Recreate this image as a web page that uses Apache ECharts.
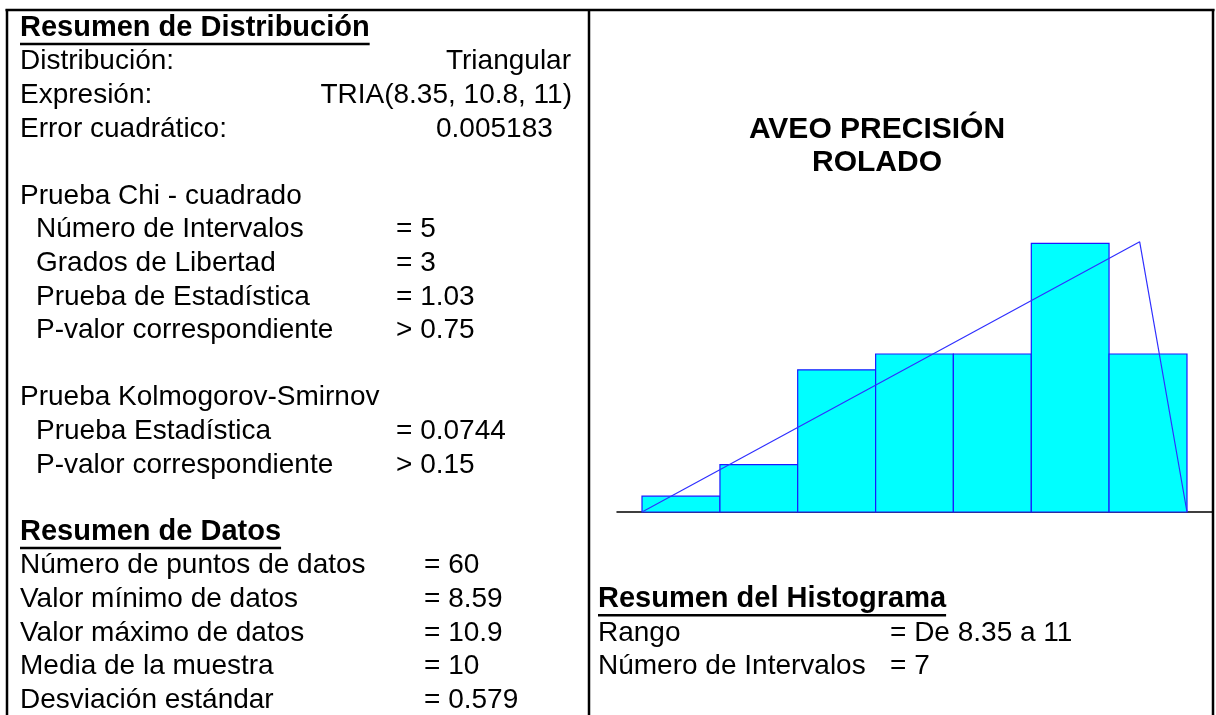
<!DOCTYPE html>
<html>
<head>
<meta charset="utf-8">
<title>AVEO PRECISIÓN ROLADO</title>
<script src="https://cdn.jsdelivr.net/npm/echarts@6/dist/echarts.min.js"></script>
<style>
  html, body { margin: 0; padding: 0; background: #fff; }
  #chart { width: 1216px; height: 715px; }
</style>
</head>
<body>
<div id="chart"></div>
<script>
// histogram data
const binEdges = [8.35, 8.729, 9.107, 9.486, 9.864, 10.243, 10.621, 11.0];
const binCounts = [1, 3, 9, 10, 10, 17, 10];
// fitted triangular curve, in counts per interval
const fitX = [8.35, 10.77, 11.0];
const fitY = [0, 17.1, 0];

const chartTitle = ["AVEO PRECISIÓN", "ROLADO"];

// left panel texts
const distHeading = "Resumen de Distribución";
const distRows = [
  ["Distribución:", "Triangular"],
  ["Expresión:", "TRIA(8.35, 10.8, 11)"],
  ["Error cuadrático:", "0.005183"],
];
const chiHeading = "Prueba Chi - cuadrado";
const chiRows = [
  ["Número de Intervalos", "= 5"],
  ["Grados de Libertad", "= 3"],
  ["Prueba de Estadística", "= 1.03"],
  ["P-valor correspondiente", "> 0.75"],
];
const ksHeading = "Prueba Kolmogorov-Smirnov";
const ksRows = [
  ["Prueba Estadística", "= 0.0744"],
  ["P-valor correspondiente", "> 0.15"],
];
const dataHeading = "Resumen de Datos";
const dataRows = [
  ["Número de puntos de datos", "= 60"],
  ["Valor mínimo de datos", "= 8.59"],
  ["Valor máximo de datos", "= 10.9"],
  ["Media de la muestra", "= 10"],
  ["Desviación estándar", "= 0.579"],
];
const histHeading = "Resumen del Histograma";
const histRows = [
  ["Rango", "= De 8.35 a 11"],
  ["Número de Intervalos", "= 7"],
];

const FONT = '"Liberation Sans", Arial, Helvetica, sans-serif';
const FS = 28;      // body text
const FS_HEAD = 29; // underlined headings
const FS_TITLE = 30;
const ROW0 = 28;
const PITCH = 33.6;
const rowY = (i) => ROW0 + i * PITCH;

// measure text to size the underlines
const ctx = document.createElement("canvas").getContext("2d");
function textWidth(str, size) {
  ctx.font = "bold " + size + "px " + FONT;
  return ctx.measureText(str).width;
}

function txt(str, x, y, opts) {
  opts = opts || {};
  const size = opts.size || FS;
  return {
    type: "text",
    silent: true,
    style: {
      x: x,
      y: y,
      text: str,
      fill: "#000",
      font: (opts.bold ? "bold " : "") + size + "px " + FONT,
      align: opts.align || "left",
      verticalAlign: "middle",
    },
  };
}

function heading(str, x, y) {
  const w = textWidth(str, FS_HEAD);
  return [
    txt(str, x, y, { bold: true, size: FS_HEAD }),
    {
      type: "line",
      silent: true,
      shape: { x1: x, y1: y + 16, x2: x + w, y2: y + 16 },
      style: { stroke: "#000", lineWidth: 2.5 },
    },
  ];
}

function line(x1, y1, x2, y2) {
  return {
    type: "line",
    silent: true,
    shape: { x1: x1, y1: y1, x2: x2, y2: y2 },
    style: { stroke: "#000", lineWidth: 2.5 },
  };
}

const graphics = [];

// frame
graphics.push(line(5.5, 10, 1214.5, 10));
graphics.push(line(7, 9, 7, 715));
graphics.push(line(589, 9, 589, 715));
graphics.push(line(1213, 9, 1213, 715));

// left panel
graphics.push(...heading(distHeading, 20, rowY(0)));
graphics.push(txt(distRows[0][0], 20, rowY(1)));
graphics.push(txt(distRows[0][1], 571, rowY(1), { align: "right" }));
graphics.push(txt(distRows[1][0], 20, rowY(2)));
graphics.push(txt(distRows[1][1], 572, rowY(2), { align: "right" }));
graphics.push(txt(distRows[2][0], 20, rowY(3)));
graphics.push(txt(distRows[2][1], 436, rowY(3)));

graphics.push(txt(chiHeading, 20, rowY(5)));
chiRows.forEach((r, i) => {
  graphics.push(txt(r[0], 36, rowY(6 + i)));
  graphics.push(txt(r[1], 396, rowY(6 + i)));
});

graphics.push(txt(ksHeading, 20, rowY(11)));
ksRows.forEach((r, i) => {
  graphics.push(txt(r[0], 36, rowY(12 + i)));
  graphics.push(txt(r[1], 396, rowY(12 + i)));
});

graphics.push(...heading(dataHeading, 20, rowY(15)));
dataRows.forEach((r, i) => {
  graphics.push(txt(r[0], 20, rowY(16 + i)));
  graphics.push(txt(r[1], 424, rowY(16 + i)));
});

// right panel
graphics.push(txt(chartTitle[0], 877, 130, { bold: true, align: "center", size: FS_TITLE }));
graphics.push(txt(chartTitle[1], 877, 163, { bold: true, align: "center", size: FS_TITLE }));

graphics.push(...heading(histHeading, 598, rowY(17)));
histRows.forEach((r, i) => {
  graphics.push(txt(r[0], 598, rowY(18 + i)));
  graphics.push(txt(r[1], 890, rowY(18 + i)));
});

const binData = binCounts.map((c, i) => [binEdges[i], binEdges[i + 1], c]);
const fitData = fitX.map((x, i) => [x, fitY[i]]);

const chart = echarts.init(document.getElementById("chart"), null, { renderer: "canvas" });
chart.setOption({
  animation: false,
  backgroundColor: "#fff",
  grid: { left: 617, top: 196, width: 595, height: 316 },
  xAxis: {
    type: "value",
    min: 8.2284,
    max: 11.1216,
    axisLine: { show: true, onZero: false, lineStyle: { color: "#000", width: 1.5 } },
    axisTick: { show: false },
    axisLabel: { show: false },
    splitLine: { show: false },
  },
  yAxis: {
    type: "value",
    min: 0,
    max: 20,
    show: false,
    splitLine: { show: false },
  },
  series: [
    {
      type: "custom",
      data: binData,
      z: 2,
      renderItem: function (params, api) {
        const p0 = api.coord([api.value(0), api.value(2)]);
        const p1 = api.coord([api.value(1), 0]);
        return {
          type: "rect",
          shape: { x: p0[0], y: p0[1], width: p1[0] - p0[0], height: p1[1] - p0[1] },
          style: { fill: "#00FFFF", stroke: "#1a1aff", lineWidth: 1.2 },
        };
      },
    },
    {
      type: "line",
      data: fitData,
      z: 3,
      symbol: "none",
      lineStyle: { color: "#3030ff", width: 1.2 },
    },
  ],
  graphic: { elements: graphics },
});
</script>
</body>
</html>
